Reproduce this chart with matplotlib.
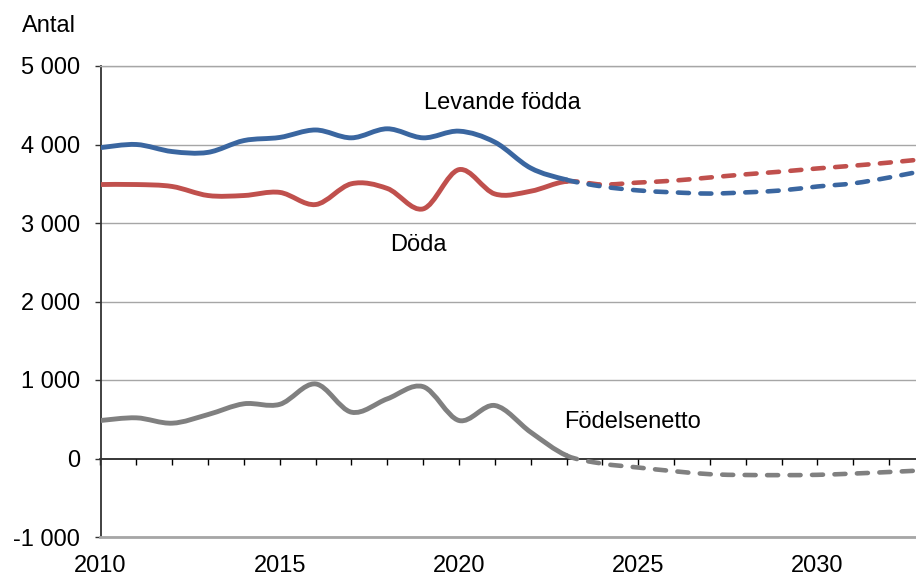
import numpy as np
import matplotlib
matplotlib.use("Agg")
import matplotlib.pyplot as plt
from matplotlib.path import Path
from matplotlib.patches import PathPatch
from matplotlib.ticker import FuncFormatter, MultipleLocator

plt.rcParams['font.family'] = ['Liberation Sans', 'DejaVu Sans']

# ---- data ----
years_hist = [2010, 2011, 2012, 2013, 2014, 2015, 2016, 2017, 2018, 2019, 2020, 2021, 2022, 2023]
years_proj = [2024, 2025, 2026, 2027, 2028, 2029, 2030, 2031, 2032, 2033]

births_hist = [3960, 4000, 3910, 3900, 4050, 4090, 4185, 4085, 4200, 4085, 4170, 4030, 3700, 3550]
births_proj = [3465, 3415, 3390, 3375, 3390, 3415, 3465, 3505, 3580, 3670]

deaths_hist = [3490, 3490, 3465, 3350, 3350, 3390, 3235, 3500, 3440, 3180, 3680, 3370, 3405, 3530]
deaths_proj = [3490, 3515, 3540, 3580, 3620, 3655, 3695, 3730, 3770, 3815]

net_hist = [484, 518, 450, 560, 697, 690, 950, 590, 760, 915, 484, 675, 335, 38]
net_proj = [-65, -115, -162, -200, -210, -212, -208, -192, -172, -150]

labels = ["Levande födda", "Döda", "Födelsenetto"]
label_pos_x = [2021.2, 2018.87, 2024.85]
label_pos_y = [4535, 2726, 459]

colors = ["#3A66A0", "#C0504D", "#808080"]

FS = 17


def bezier_segments(xs, ys):
    pts = np.column_stack([xs, ys]).astype(float)
    n = len(pts)
    segs = []
    for i in range(n - 1):
        p0 = pts[i - 1] if i > 0 else pts[i]
        p1 = pts[i]
        p2 = pts[i + 1]
        p3 = pts[i + 2] if i + 2 < n else pts[i + 1]
        c1 = p1 + (p2 - p0) / 6.0
        c2 = p2 - (p3 - p1) / 6.0
        segs.append((p1, c1, c2, p2))
    return segs


def make_path(segs):
    verts = [segs[0][0]]
    codes = [Path.MOVETO]
    for (_, c1, c2, p2) in segs:
        verts += [c1, c2, p2]
        codes += [Path.CURVE4] * 3
    return Path(verts, codes)


fig = plt.figure(figsize=(9.16, 5.76), dpi=100)
ax = fig.add_axes([100.5 / 916, 1 - 537 / 576, 1 - 100.5 / 916, 471 / 576])

ax.set_xlim(2010, 2010 + (916 - 100.5) / 35.85)
ax.set_ylim(-1000, 5000)

grid_c = "#A6A6A6"
ax.yaxis.set_major_locator(MultipleLocator(1000))
ax.yaxis.set_major_formatter(FuncFormatter(lambda v, p: f"{v:,.0f}".replace(",", " ")))
ax.grid(axis='y', color=grid_c, lw=1.0, zorder=0)
ax.set_axisbelow(True)

ax.spines['right'].set_visible(False)
ax.spines['top'].set_color(grid_c)
ax.spines['top'].set_linewidth(1.0)
ax.spines['bottom'].set_color(grid_c)
ax.spines['bottom'].set_linewidth(2.0)
ax.spines['left'].set_color('#333333')
ax.spines['left'].set_linewidth(1.3)

ax.tick_params(axis='y', direction='out', length=4.3, width=1.0, color='#333333',
               pad=10.5, labelsize=FS, labelcolor='black')
ax.set_xticks([2010, 2015, 2020, 2025, 2030])
ax.tick_params(axis='x', length=0, pad=13, labelsize=FS, labelcolor='black')

sec = ax.secondary_xaxis(1 / 6)
sec.set_xticks(list(range(2010, 2034)))
sec.tick_params(axis='x', direction='out', length=4.5, width=1.0, color='black',
                labelbottom=False, labeltop=False)
for s in sec.spines.values():
    s.set_color('black')
    s.set_linewidth(1.1)

# hide the gridline at zero (the zero axis line is drawn instead)
fig.canvas.draw()
for t in ax.yaxis.get_major_ticks():
    if abs(t.get_loc()) < 1e-6:
        t.gridline.set_visible(False)

series = [(births_hist, births_proj), (deaths_hist, deaths_proj), (net_hist, net_proj)]
zs = [4, 3, 3]
for (h, p), c, z in zip(series, colors, zs):
    xs = years_hist + years_proj
    ys = h + p
    segs = bezier_segments(xs, ys)
    nh = len(years_hist) - 1
    solid = make_path(segs[:nh])
    dashed = make_path(segs[nh:])
    ax.add_patch(PathPatch(solid, fill=False, edgecolor=c, lw=3.5,
                           capstyle='round', joinstyle='round', zorder=z))
    ax.add_patch(PathPatch(dashed, fill=False, edgecolor=c, lw=3.3,
                           linestyle=(0, (2.4, 2.5)), capstyle='round',
                           joinstyle='round', zorder=z + 1))

for t, x, y in zip(labels, label_pos_x, label_pos_y):
    ax.text(x, y, t, ha='center', va='center', fontsize=FS, color='black')

fig.text(22 / 916, 1 - 32.3 / 576, "Antal", ha='left', va='baseline', fontsize=FS)

fig.savefig("out.png", dpi=100)
